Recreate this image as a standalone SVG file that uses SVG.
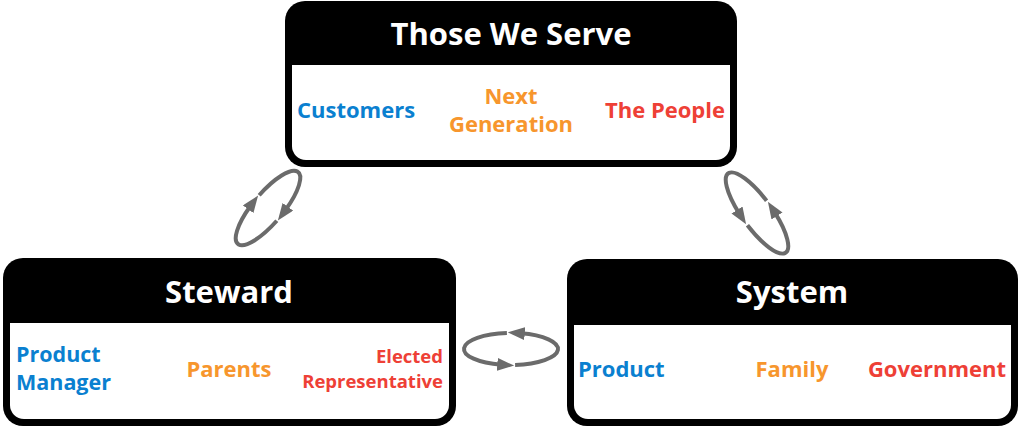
<svg xmlns="http://www.w3.org/2000/svg" width="1022" height="427" viewBox="0 0 1022 427">
<style>
.outer{fill:#000}
.inner{fill:#fff}
.title{font-family:"Open Sans","Liberation Sans",sans-serif;font-weight:700;font-size:31px;fill:#fff;text-anchor:middle}
.t{font-family:"Open Sans","Liberation Sans",sans-serif;font-weight:700;font-size:22px}
.m{font-size:21.5px}
.s{font-size:18.5px}
.blue{fill:#0a80d0}
.orange{fill:#f7962d}
.red{fill:#ee4036}
.cyc{fill:none;stroke:#6b6b6b;stroke-width:4;marker-end:url(#ah)}
</style>
<defs>
<marker id="ah" markerUnits="userSpaceOnUse" markerWidth="18" markerHeight="14" refX="4" refY="6.5" orient="auto">
<path d="M0,0 L17,6.5 L0,13 Z" fill="#6b6b6b"/>
</marker>
</defs>
<rect width="1022" height="427" fill="#fff"/>

<g id="those-we-serve">
<rect class="outer" x="285" y="1" width="452" height="166" rx="20"/>
<path class="inner" d="M292,65 H730 V146 A14,14 0 0 1 716,160 H306 A14,14 0 0 1 292,146 Z"/>
<text class="title" x="511" y="45">Those We Serve</text>
<text class="t blue" x="297" y="118">Customers</text>
<text class="t orange" x="511" y="104" text-anchor="middle">Next</text>
<text class="t orange" x="511" y="132" text-anchor="middle">Generation</text>
<text class="t red" x="725" y="118" text-anchor="end">The People</text>
</g>

<g id="steward">
<rect class="outer" x="3" y="258" width="453" height="168" rx="20"/>
<path class="inner" d="M10,323 H449 V405 A14,14 0 0 1 435,419 H24 A14,14 0 0 1 10,405 Z"/>
<text class="title" x="229" y="303">Steward</text>
<text class="t m blue" x="16" y="362">Product</text>
<text class="t m blue" x="16" y="390">Manager</text>
<text class="t orange" x="229" y="377" text-anchor="middle">Parents</text>
<text class="t s red" x="443" y="363" text-anchor="end">Elected</text>
<text class="t s red" x="443" y="388" text-anchor="end">Representative</text>
</g>

<g id="system">
<rect class="outer" x="567" y="259" width="451" height="167" rx="20"/>
<path class="inner" d="M574,325 H1011 V405 A14,14 0 0 1 997,419 H588 A14,14 0 0 1 574,405 Z"/>
<text class="title" x="792" y="303">System</text>
<text class="t blue" x="578" y="377">Product</text>
<text class="t orange" x="792" y="377" text-anchor="middle">Family</text>
<text class="t red" x="1006" y="377" text-anchor="end">Government</text>
</g>

<g id="connectors">
<path class="cyc" d="M259.20,195.26 A47,15 -50 0 1 285.52,209.95"/>
<path class="cyc" d="M276.80,220.74 A47,15 -50 0 1 250.48,206.05"/>
<path class="cyc" d="M766.58,200.77 A49,15 54 0 0 739.14,213.38"/>
<path class="cyc" d="M747.42,225.23 A49,15 54 0 0 774.86,212.62"/>
<path class="cyc" d="M515.10,364.94 A47,16 0 0 0 520.77,333.35"/>
<path class="cyc" d="M506.90,333.06 A47,16 0 0 0 501.23,364.65"/>
</g>
</svg>
